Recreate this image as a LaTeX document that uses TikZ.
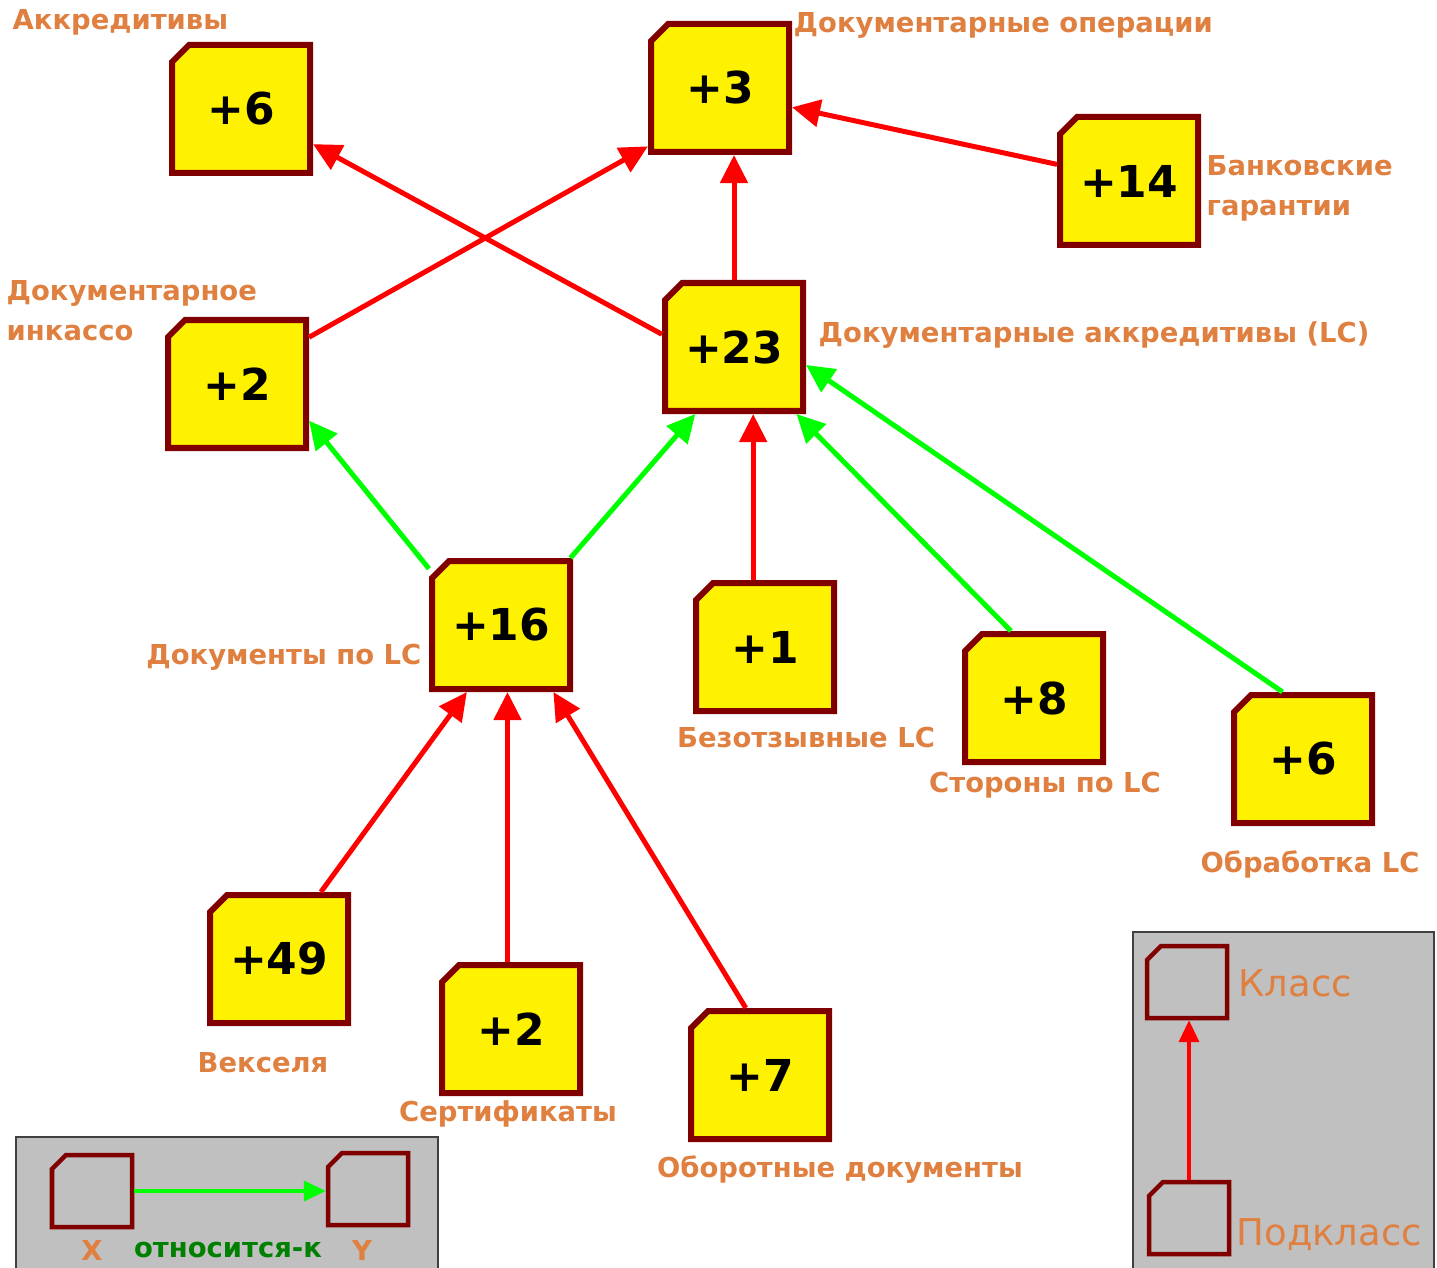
\documentclass[tikz,border=0pt]{standalone}
\usepackage{fontspec}
\setmainfont{DejaVu Sans}
\usetikzlibrary{arrows.meta}
\definecolor{frame}{HTML}{800000}
\definecolor{lblorange}{HTML}{E08040}
\definecolor{legendgray}{HTML}{C0C0C0}
\definecolor{relgreen}{HTML}{00FF00}
\definecolor{txtgreen}{HTML}{008000}

\def\w{1.38cm}
\def\h{1.28cm}
% box with cut corner, then its node on top
\def\cls#1#2#3{%
    \filldraw[clsframe, shift={(#2)}] (-69,64) -- (-69,-47) -- (-52,-64) -- (69,-64) -- (69,64) -- cycle;
    \node[cls] (#1) at (#2) {#3};}
\def\lcls#1#2{%
    \draw[lclsframe, shift={(#2)}] (-40,36) -- (-40,-22) -- (-26,-36) -- (40,-36) -- (40,36) -- cycle;
    \node[lcls] (#1) at (#2) {};}
\def\lbl#1#2#3#4{\node[lbl, anchor=#3] (#1) at (#2) {#4};}

\begin{document}
\begin{tikzpicture}[x=0.01cm,y=-0.01cm,
    clsframe/.style={draw=frame, fill=yellow, line width=0.06cm},
    cls/.style={rectangle, inner sep=0pt, outer sep=0.03cm,
        minimum width=\w, minimum height=\h,
        font=\fontsize{12.5}{13}\selectfont\bfseries},
    lclsframe/.style={draw=frame, line width=0.045cm},
    lcls/.style={rectangle, inner sep=0pt, outer sep=0.022cm,
        minimum width=0.8cm, minimum height=0.72cm},
    lbl/.style={text=lblorange, inner sep=0pt, align=left,
        font=\fontsize{7.8}{11.4}\selectfont\bfseries},
    ltxt/.style={text=lblorange, inner sep=0pt, font=\fontsize{10.5}{12}\selectfont},
    sub/.style={draw=red, line width=0.05cm, -{Triangle[length=0.28cm,width=0.27cm]}},
    rel/.style={draw=relgreen, line width=0.05cm, -{Triangle[length=0.28cm,width=0.27cm]}},
    legend/.style={draw=black!75, fill=legendgray, line width=0.02cm},
    ]
    \useasboundingbox (0,0) rectangle (1437,1267);

    % classes
    \cls{akk}{241,109}{+6}
    \cls{oper}{720,88}{+3}
    \cls{gar}{1129,181}{+14}
    \cls{ink}{237,384}{+2}
    \cls{lc}{734,347}{+23}
    \cls{doc}{501,625}{+16}
    \cls{irr}{765,647}{+1}
    \cls{par}{1034,698}{+8}
    \cls{proc}{1303,759}{+6}
    \cls{bill}{279,959}{+49}
    \cls{cert}{511,1029}{+2}
    \cls{neg}{760,1075}{+7}

    % names
    \lbl{lakk}{12,22}{west}{Аккредитивы}
    \lbl{loper}{793,25}{west}{Документарные операции}
    \lbl{lgar}{1206,188}{west}{Банковские\\гарантии}
    \lbl{link}{6,311}{west}{Документарное\\инкассо}
    \lbl{llc}{818,335}{west}{Документарные аккредитивы (LC)}
    \lbl{ldoc}{422,657}{east}{Документы по LC}
    \lbl{lirr}{806,738}{center}{Безотзывные LC}
    \lbl{lpar}{1045,785}{center}{Стороны по LC}
    \lbl{lproc}{1310,864}{center}{Обработка LC}
    \lbl{lbill}{263,1063}{center}{Векселя}
    \lbl{lcert}{508,1114}{center}{Сертификаты}
    \lbl{lneg}{840,1170}{center}{Оборотные документы}

    % subclass links
    \draw[sub] (lc.170) -- (akk.-26);
    \draw[sub] (ink.33) -- (oper.219);
    \draw[sub] (lc.north) -- (lc.north |- oper.south);
    \draw[sub] (gar.167) -- (oper.-15);
    \draw[sub] (irr.100) -- (irr.100 |- lc.south);
    \draw[sub] (bill.58) -- (doc.243);
    \draw[sub] (cert.93) -- (cert.93 |- doc.south);
    \draw[sub] (neg.102) -- (doc.-52);
    % related-to links
    \draw[rel] (doc.142) -- (ink.-27);
    \draw[rel] (doc.44) -- (lc.240);
    \draw[rel] (par.109) -- (lc.-47);
    \draw[rel] (proc.107) -- (lc.-14);

    % legend: relation
    \draw[legend] (16,1137) rectangle (438,1272);
    \lcls{lx}{92,1191}
    \lcls{ly}{368,1189}
    \draw[rel, line width=0.04cm, -{Triangle[length=0.22cm,width=0.2cm]}] (lx.east) -- (lx.east -| ly.west);
    \node[lbl, anchor=center] (lxt) at (92,1250) {X};
    \node[lbl, anchor=center, text=txtgreen] (lrelt) at (228,1250) {относится-к};
    \node[lbl, anchor=center] (lyt) at (362,1250) {Y};

    % legend: subclass
    \draw[legend] (1133,932) rectangle (1434,1272);
    \lcls{lk}{1187,982}
    \lcls{lsub}{1189,1218}
    \draw[sub, line width=0.035cm, -{Triangle[length=0.22cm,width=0.2cm]}] (lsub.north) -- (lsub.north |- lk.south);
    \node[ltxt, anchor=west] (lkt) at (1238,983) {Класс};
    \node[ltxt, anchor=west] (lsubt) at (1236,1235) {Подкласс};
\end{tikzpicture}
\end{document}
